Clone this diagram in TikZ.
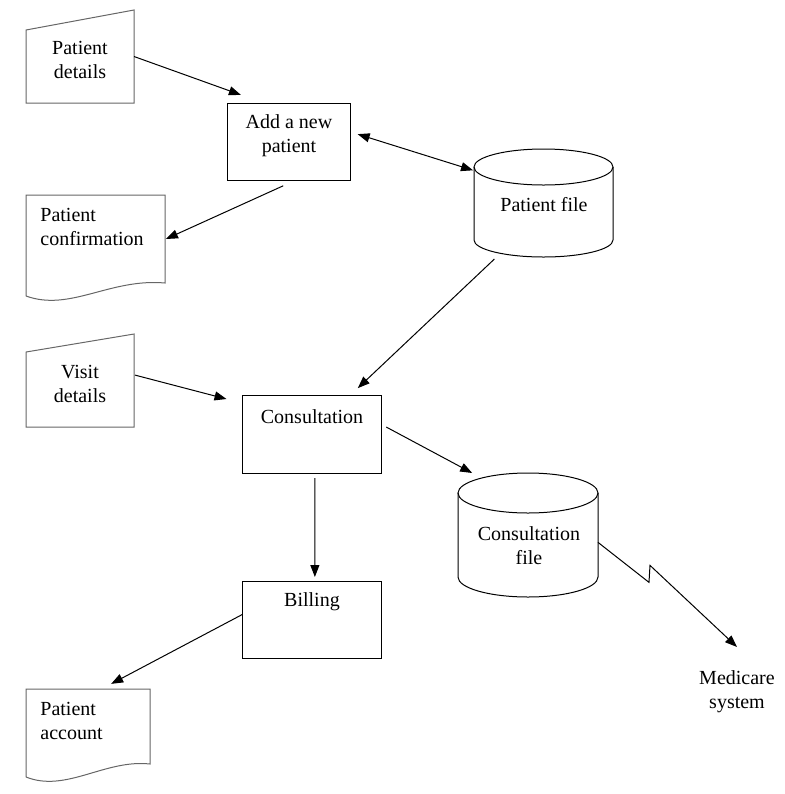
\documentclass[tikz,border=0pt]{standalone}
\usepackage{fontspec}
\setmainfont{Liberation Serif}
\usetikzlibrary{arrows.meta,calc}
\tikzset{
	shapebox/.style={inner sep=0pt,outer sep=0pt},
	procbox/.style={shapebox,draw=black,line width=0.5pt},
	outline/.style={draw=black!60,line width=0.5pt},
	drum/.style={draw=black,line width=0.5pt},
	tag/.style={inner sep=0pt,align=center},
	flow/.style={->,line width=0.5pt},
}
\begin{document}
\begin{tikzpicture}[x=0.5pt,y=-0.5pt,font=\fontsize{10}{12}\selectfont,>={Triangle[length=6pt,width=4.5pt]}]
			\useasboundingbox (0,0) rectangle (784,794);

			\node[shapebox,minimum width=54pt,minimum height=46.5pt] (pdetails) at (80,56.5) {};
			\node[procbox,minimum width=61.5pt,minimum height=38.5pt] (newpatient) at (288.5,141.5) {};
			\node[shapebox,minimum width=69.5pt,minimum height=54pt] (patientfile) at (543.5,203) {};
			\node[shapebox,minimum width=69.5pt,minimum height=50.5pt] (pconf) at (95.5,245.5) {};
			\node[shapebox,minimum width=54pt,minimum height=46.5pt] (vdetails) at (80,380.5) {};
			\node[procbox,minimum width=69.5pt,minimum height=39pt] (consult) at (311.5,434) {};
			\node[shapebox,minimum width=70pt,minimum height=62pt] (cfile) at (528,535) {};
			\node[procbox,minimum width=69.5pt,minimum height=38.5pt] (billing) at (311.5,619.5) {};
			\node[shapebox,minimum width=62pt,minimum height=44pt] (paccount) at (88,733) {};

			\draw[outline] (pdetails.south west) -- (pdetails.south east) -- (pdetails.north east) -- ($(pdetails.north west)+(0,20)$) -- cycle;
			\draw[outline] (vdetails.south west) -- (vdetails.south east) -- (vdetails.north east) -- ($(vdetails.north west)+(0,18)$) -- cycle;
			\draw[outline] (pconf.south west) -- (pconf.north west) -- (pconf.north east) -- ($(pconf.south east)+(0,-13)$) .. controls ($(pconf.south east)+(-55,-18)$) and ($(pconf.south west)+(44,16)$) .. (pconf.south west);
			\draw[outline] (paccount.south west) -- (paccount.north west) -- (paccount.north east) -- ($(paccount.south east)+(0,-13)$) .. controls ($(paccount.south east)+(-45,-18)$) and ($(paccount.south west)+(40,16)$) .. (paccount.south west);
			\draw[drum] ($(patientfile.north)+(0,18)$) ellipse [x radius=34.75pt,y radius=9pt];
			\draw[drum] ($(patientfile.north west)+(0,18)$) -- ($(patientfile.south west)+(0,-17)$) arc[start angle=180,end angle=360,x radius=34.75pt,y radius=8.5pt] -- ($(patientfile.north east)+(0,18)$);
			\draw[drum] ($(cfile.north)+(0,20)$) ellipse [x radius=35pt,y radius=10pt];
			\draw[drum] ($(cfile.north west)+(0,20)$) -- ($(cfile.south west)+(0,-20)$) arc[start angle=180,end angle=360,x radius=35pt,y radius=10pt] -- ($(cfile.north east)+(0,20)$);

			\node[tag] (pdetails-t) at (80,60) {Patient\\details};
			\node[tag] (newpatient-t) at (289,136) {Add a new\\patient};
			\node[tag] (patientfile-t) at (544,205) {Patient file};
			\node[tag,align=left,anchor=west] (pconf-t) at (40,227) {Patient\\confirmation};
			\node[tag] (vdetails-t) at (80,384) {Visit\\details};
			\node[tag] (consult-t) at (312,417) {Consultation};
			\node[tag] (cfile-t) at (529,546) {Consultation\\file};
			\node[tag] (billing-t) at (312,602) {Billing};
			\node[tag,align=left,anchor=west] (paccount-t) at (40,721) {Patient\\account};
			\node[tag] (medicare) at (737,692) {Medicare\\system};

			\draw[flow,shorten >=12pt] (pdetails.east) -- (newpatient.123);
			\draw[flow,<->,shorten <=4pt,shorten >=0.5pt] (newpatient.9) -- (patientfile.155);
			\draw[flow,shorten <=7pt,shorten >=0.5pt] (newpatient.281) -- (pconf.5);
			\draw[flow,shorten <=1.5pt,shorten >=5pt] (patientfile.229) -- (consult.45);
			\draw[flow,shorten <=0.5pt,shorten >=8pt] (vdetails.6) -- (consult.156);
			\draw[flow,shorten <=3pt] (consult.8) -- (cfile.132);
			\draw[flow,shorten <=2.5pt,shorten >=2pt] (consult.275) -- (billing.85);
			\draw[flow,shorten >=5.5pt] (billing.176) -- (paccount.73);
			\draw[flow] (cfile.354) -- ++(51,40) -- ++(1,-17) -- ($(medicare.center)+(0,-45)$);

		\end{tikzpicture}
\end{document}
